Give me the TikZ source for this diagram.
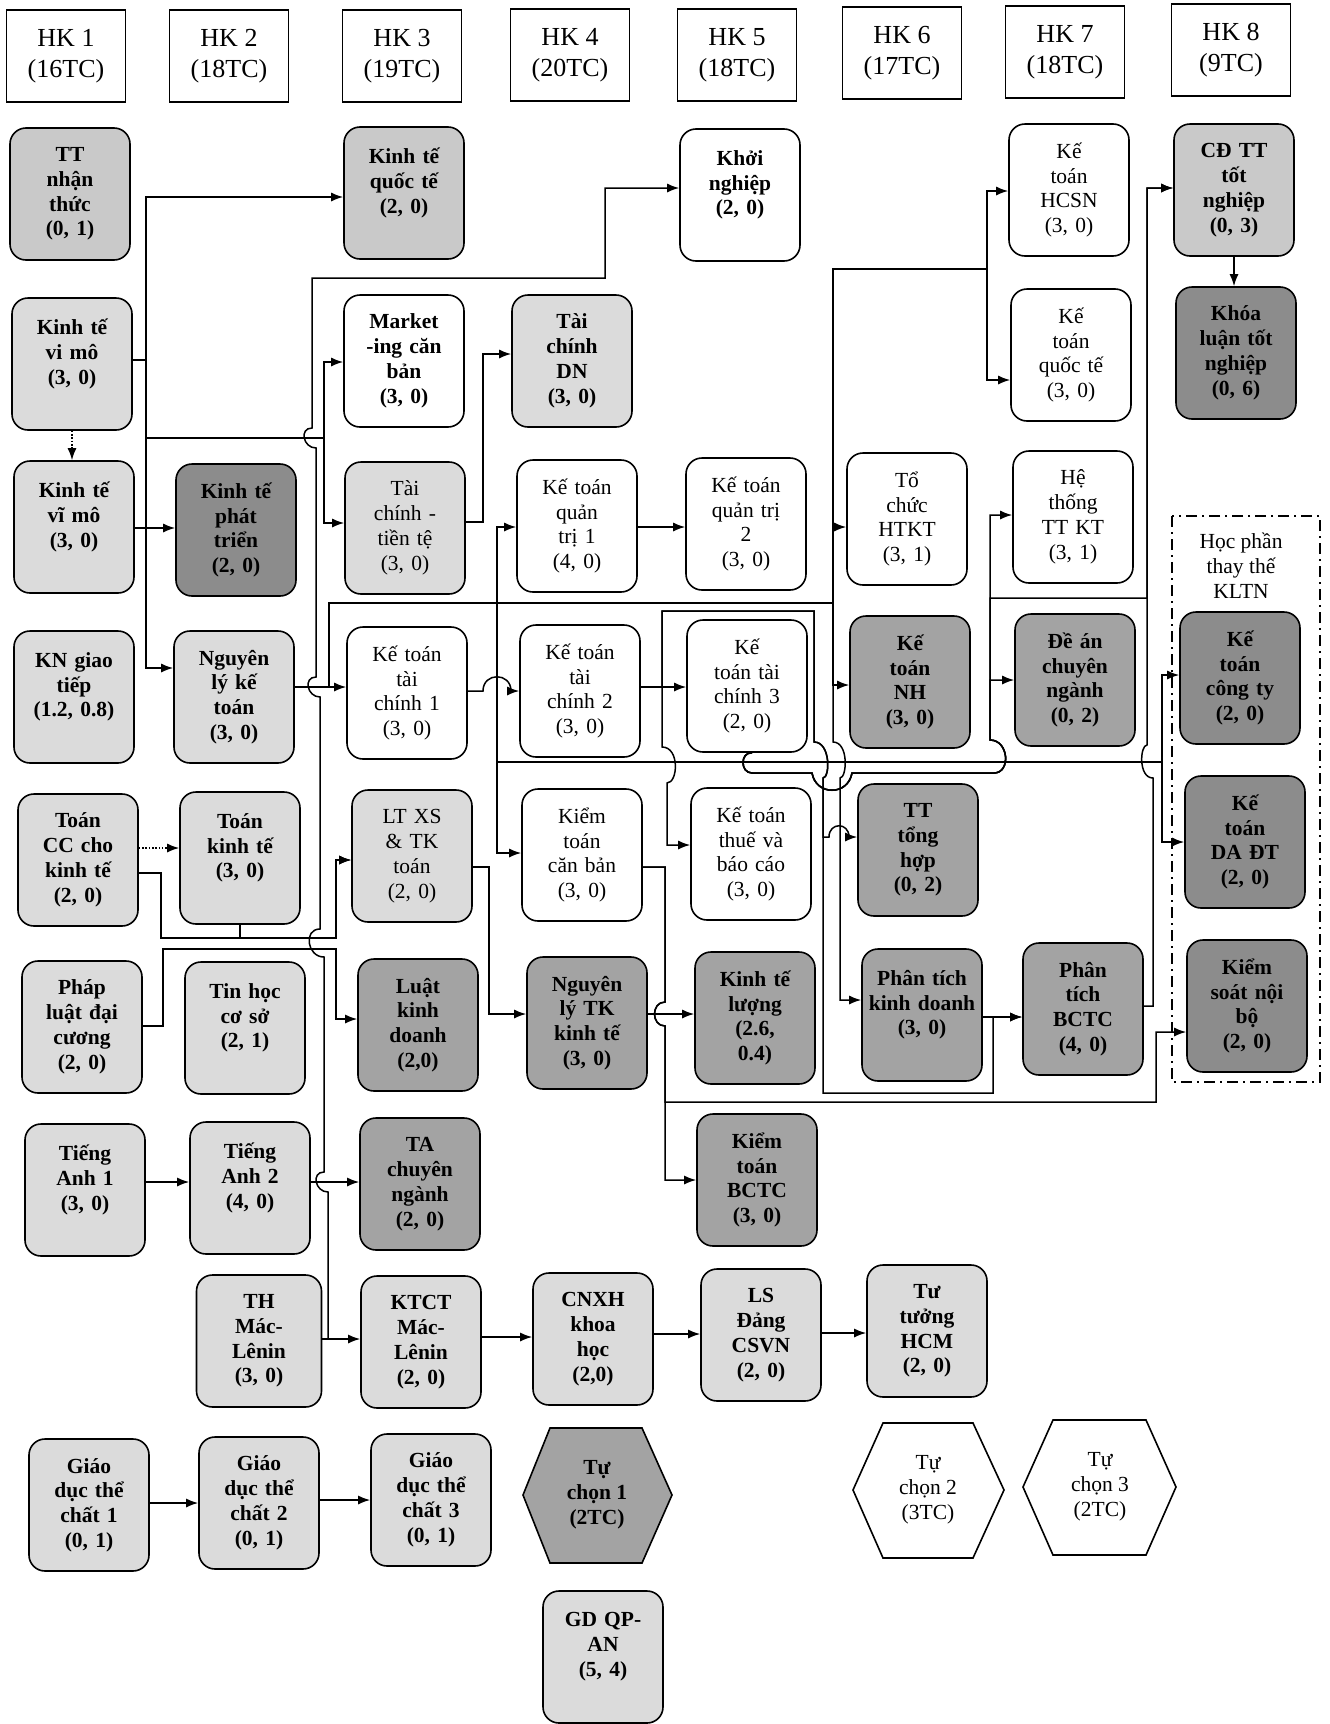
\documentclass[tikz,border=0pt]{standalone}
\usepackage{fontspec}
\setmainfont{Liberation Serif}
\usetikzlibrary{arrows.meta}
\definecolor{gA}{gray}{0.86}
\definecolor{gB}{gray}{0.79}
\definecolor{gC}{gray}{0.64}
\definecolor{gD}{gray}{0.55}
\begin{document}
\begin{tikzpicture}[x=1pt,y=-1pt,
  hdrbox/.style={draw, line width=1.6pt, minimum width=119pt, minimum height=92pt, align=center, inner sep=1pt, font=\fontsize{26}{31}\selectfont},
  basebox/.style={draw, line width=1.6pt, rounded corners=16pt, minimum width=120pt, minimum height=132pt, text width=114pt, align=center, inner sep=1pt},
  bxw/.style={basebox, fill=white, font=\fontsize{21.5}{24.8}\selectfont},
  bxwb/.style={basebox, fill=white, font=\bfseries\fontsize{21.5}{24.8}\selectfont},
  bxl/.style={basebox, fill=gA, font=\bfseries\fontsize{21.5}{24.8}\selectfont},
  bxlr/.style={basebox, fill=gA, font=\fontsize{21.5}{24.8}\selectfont},
  bxlb/.style={basebox, fill=gB, font=\bfseries\fontsize{21.5}{24.8}\selectfont},
  bxm/.style={basebox, fill=gC, font=\bfseries\fontsize{21.5}{24.8}\selectfont},
  bxd/.style={basebox, fill=gD, font=\bfseries\fontsize{21.5}{24.8}\selectfont},
  hexshape/.style={draw, line width=1.6pt, line join=miter},
  hextext/.style={align=center, inner sep=1pt, font=\fontsize{21.5}{24.8}\selectfont},
  arrow1/.style={line width=1.5pt, -{Latex[length=12pt,width=9pt]}},
  dotarrow/.style={arrow1, dash pattern=on 1.5pt off 1.8pt}
]
\useasboundingbox (0,0) rectangle (1330,1724);
\fill[white] (0,0) rectangle (1330,1724);

% headers
\node[hdrbox] (hk1) at (66,56) {HK 1\\(16TC)};
\node[hdrbox] (hk2) at (229,56) {HK 2\\(18TC)};
\node[hdrbox] (hk3) at (402,56) {HK 3\\(19TC)};
\node[hdrbox] (hk4) at (570,55) {HK 4\\(20TC)};
\node[hdrbox] (hk5) at (737,55) {HK 5\\(18TC)};
\node[hdrbox] (hk6) at (902,53) {HK 6\\(17TC)};
\node[hdrbox] (hk7) at (1065,52) {HK 7\\(18TC)};
\node[hdrbox] (hk8) at (1231,50) {HK 8\\(9TC)};

% row 1
\node[bxlb] (ttnt) at (70,194) {TT\\nhận\\thức\\(0, 1)};
\node[bxlb] (kqt) at (404,193) {Kinh tế\\quốc tế\\(2, 0)\\~};
\node[bxwb] (khn) at (740,195) {Khởi\\nghiệp\\(2, 0)\\~};
\node[bxw] (hcsn) at (1069,190) {Kế\\toán\\HCSN\\(3, 0)};
\node[bxlb] (cdtt) at (1234,190) {CĐ TT\\tốt\\nghiệp\\(0, 3)};
% row 2
\node[bxl] (vimo) at (72,364) {Kinh tế\\vi mô\\(3, 0)\\~};
\node[bxwb] (mkt) at (404,361) {Market\\-ing căn\\bản\\(3, 0)};
\node[bxl] (tcdn) at (572,361) {Tài\\chính\\DN\\(3, 0)};
\node[bxw] (ktqte) at (1071,355) {Kế\\toán\\quốc tế\\(3, 0)};
\node[bxd] (kltn) at (1236,353) {Khóa\\luận tốt\\nghiệp\\(0, 6)};
% row 3
\node[bxl] (vimo2) at (74,527) {Kinh tế\\vĩ mô\\(3, 0)\\~};
\node[bxd] (ktpt) at (236,530) {Kinh tế\\phát\\triển\\(2, 0)};
\node[bxlr] (tctt) at (405,528) {Tài\\chính -\\tiền tệ\\(3, 0)};
\node[bxw] (ktqt1) at (577,526) {Kế toán\\quản\\trị 1\\(4, 0)};
\node[bxw] (ktqt2) at (746,524) {Kế toán\\quản trị\\2\\(3, 0)};
\node[bxw] (tchtkt) at (907,519) {Tổ\\chức\\HTKT\\(3, 1)};
\node[bxw] (httt) at (1073,517) {Hệ\\thống\\TT KT\\(3, 1)};
% row 4
\node[bxl] (kngt) at (74,697) {KN giao\\tiếp\\(1.2, 0.8)\\~};
\node[bxl] (nlkt) at (234,697) {Nguyên\\lý kế\\toán\\(3, 0)};
\node[bxw] (kttc1) at (407,693) {Kế toán\\tài\\chính 1\\(3, 0)};
\node[bxw] (kttc2) at (580,691) {Kế toán\\tài\\chính 2\\(3, 0)};
\node[bxw] (kttc3) at (747,686) {Kế\\toán tài\\chính 3\\(2, 0)};
\node[bxm] (ktnh) at (910,682) {Kế\\toán\\NH\\(3, 0)};
\node[bxm] (dean) at (1075,680) {Đề án\\chuyên\\ngành\\(0, 2)};
\node[bxd] (ktct) at (1240,678) {Kế\\toán\\công ty\\(2, 0)};
% row 5
\node[bxl] (toancc) at (78,860) {Toán\\CC cho\\kinh tế\\(2, 0)};
\node[bxl] (toankt) at (240,858) {Toán\\kinh tế\\(3, 0)\\~};
\node[bxlr] (ltxs) at (412,856) {LT XS\\\& TK\\toán\\(2, 0)};
\node[bxw] (ktcb) at (582,855) {Kiểm\\toán\\căn bản\\(3, 0)};
\node[bxw] (ktthue) at (751,854) {Kế toán\\thuế và\\báo cáo\\(3, 0)};
\node[bxm] (tth) at (918,850) {TT\\tổng\\hợp\\(0, 2)};
\node[bxd] (ktda) at (1245,842) {Kế\\toán\\DA ĐT\\(2, 0)};
% row 6
\node[bxl] (pldc) at (82,1027) {Pháp\\luật đại\\cương\\(2, 0)};
\node[bxl] (thcs) at (245,1028) {Tin học\\cơ sở\\(2, 1)\\~};
\node[bxm] (lkd) at (418,1025) {Luật\\kinh\\doanh\\(2,0)};
\node[bxm] (nltk) at (587,1023) {Nguyên\\lý TK\\kinh tế\\(3, 0)};
\node[bxm] (ktl) at (755,1018) {Kinh tế\\lượng\\(2.6,\\0.4)};
\node[bxm] (ptkd) at (922,1015) {Phân tích\\kinh doanh\\(3, 0)\\~};
\node[bxm] (ptbctc) at (1083,1009) {Phân\\tích\\BCTC\\(4, 0)};
\node[bxd] (ksnb) at (1247,1006) {Kiểm\\soát nội\\bộ\\(2, 0)};
% row 7
\node[bxl] (ta1) at (85,1190) {Tiếng\\Anh 1\\(3, 0)\\~};
\node[bxl] (ta2) at (250,1188) {Tiếng\\Anh 2\\(4, 0)\\~};
\node[bxm] (tacn) at (420,1184) {TA\\chuyên\\ngành\\(2, 0)};
\node[bxm] (ktbctc) at (757,1180) {Kiểm\\toán\\BCTC\\(3, 0)};
% row 8
\node[bxl, minimum width=125pt] (thml) at (259,1341) {TH\\Mác-\\Lênin\\(3, 0)};
\node[bxl] (ktctml) at (421,1342) {KTCT\\Mác-\\Lênin\\(2, 0)};
\node[bxl] (cnxh) at (593,1339) {CNXH\\khoa\\học\\(2,0)};
\node[bxl] (lsd) at (761,1335) {LS\\Đảng\\CSVN\\(2, 0)};
\node[bxl] (tthcm) at (927,1331) {Tư\\tưởng\\HCM\\(2, 0)};
% row 9
\node[bxl] (gdtc1) at (89,1505) {Giáo\\dục thể\\chất 1\\(0, 1)};
\node[bxl] (gdtc2) at (259,1503) {Giáo\\dục thể\\chất 2\\(0, 1)};
\node[bxl] (gdtc3) at (431,1500) {Giáo\\dục thể\\chất 3\\(0, 1)};
\draw[hexshape, fill=gC] (523,1495) -- (550,1428) -- (642,1428) -- (672,1495) -- (642,1563) -- (550,1563) -- cycle;
\node[hextext, font=\bfseries\fontsize{21.5}{24.8}\selectfont] (tc1) at (597,1495) {Tự\\chọn 1\\(2TC)};
\draw[hexshape, fill=white] (853,1490) -- (883,1423) -- (973,1423) -- (1004,1490) -- (973,1558) -- (883,1558) -- cycle;
\node[hextext] (tc2) at (928,1490) {Tự\\chọn 2\\(3TC)};
\draw[hexshape, fill=white] (1023,1487) -- (1053,1420) -- (1146,1420) -- (1176,1487) -- (1146,1555) -- (1053,1555) -- cycle;
\node[hextext] (tc3) at (1100,1487) {Tự\\chọn 3\\(2TC)};
% row 10
\node[bxl] (gdqp) at (603,1657) {GD QP-\\AN\\(5, 4)\\~};

% frame
\draw[line width=1.5pt, dash pattern=on 11pt off 5pt on 2pt off 5pt] (1172,516) rectangle (1320,1082);
\node[hextext] (hptt) at (1241,566) {Học phần\\thay thế\\KLTN};

% ---- connectors ----
\draw[arrow1] (vimo.east |- 0,360) -- (146,360) -- (146,197) -- (kqt.west |- 0,197);
\draw[arrow1] (vimo.east |- 0,360) -- (146,360) -- (146,668) -- (nlkt.west |- 0,668);
\draw[arrow1] (vimo.east |- 0,360) -- (146,360) -- (146,438) -- (324,438) -- (324,362) -- (mkt.west |- 0,362);
\draw[arrow1] (vimo.east |- 0,360) -- (146,360) -- (146,438) -- (324,438) -- (324,523) -- (tctt.west |- 0,523);
\draw[dotarrow] (vimo.south) -- (vimo.south |- vimo2.north);
\draw[arrow1] (vimo2.east |- 0,528) -- (ktpt.west |- 0,528);

\draw[arrow1] (thml.east |- 0,1339) -- (328,1339) -- (328,1192)
  .. controls (315,1192) and (311,1172) .. (324,1172) -- (324,957)
  .. controls (307,957) and (303,929) .. (320,929) -- (320,697)
  .. controls (307,697) and (303,677) .. (316,677) -- (316,448)
  .. controls (303,448) and (299,428) .. (312,428) -- (312,278) -- (605,278) -- (605,188) -- (khn.west |- 0,188);
\draw[arrow1] (thml.east |- 0,1339) -- (ktctml.west |- 0,1339);
\draw[arrow1] (ta1.east |- 0,1182) -- (ta2.west |- 0,1182);
\draw[arrow1] (ta2.east |- 0,1182) -- (tacn.west |- 0,1182);

\draw[dotarrow] (toancc.east |- 0,848) -- (toankt.west |- 0,848);
\draw[arrow1] (toancc.east |- 0,873) -- (161,873) -- (161,938) -- (336,938) -- (336,860) -- (ltxs.west |- 0,860);
\draw[arrow1] (toankt.south) -- (toankt.south |- 0,938) -- (336,938) -- (336,860) -- (ltxs.west |- 0,860);
\draw[arrow1] (pldc.east |- 0,1026) -- (163,1026) -- (163,949) -- (336,949) -- (336,1019) -- (lkd.west |- 0,1019);

\draw[arrow1] (nlkt.east |- 0,687) -- (kttc1.west |- 0,687);
\draw[arrow1] (nlkt.east |- 0,687) -- (329,687) -- (329,603) -- (497,603) -- (497,527) -- (ktqt1.west |- 0,527);
\draw[arrow1] (nlkt.east |- 0,687) -- (329,687) -- (329,603) -- (497,603) -- (497,853) -- (ktcb.west |- 0,853);
\draw[arrow1] (nlkt.east |- 0,687) -- (329,687) -- (329,603) -- (497,603) -- (497,762) -- (1162,762) -- (1162,675) -- (ktct.west |- 0,675);
\draw[arrow1] (nlkt.east |- 0,687) -- (329,687) -- (329,603) -- (497,603) -- (497,762) -- (1162,762) -- (1162,842) -- (ktda.west |- 0,842);
\draw[arrow1] (nlkt.east |- 0,687) -- (329,687) -- (329,603) -- (833,603) -- (833,527) -- (tchtkt.west |- 0,527);
\draw[arrow1] (nlkt.east |- 0,687) -- (329,687) -- (329,603) -- (833,603) -- (833,685) -- (ktnh.west |- 0,685);
\draw[arrow1] (nlkt.east |- 0,687) -- (329,687) -- (329,603) -- (833,603) -- (833,742)
  .. controls (849,742) and (847,778) .. (840,778) -- (840,1000) -- (ptkd.west |- 0,1000);
\draw[arrow1] (nlkt.east |- 0,687) -- (329,687) -- (329,603) -- (833,603) -- (833,269) -- (987,269) -- (987,191) -- (hcsn.west |- 0,191);
\draw[arrow1] (nlkt.east |- 0,687) -- (329,687) -- (329,603) -- (833,603) -- (833,269) -- (987,269) -- (987,380) -- (ktqte.west |- 0,380);

\draw[arrow1] (tctt.east |- 0,522) -- (483,522) -- (483,354) -- (tcdn.west |- 0,354);
\draw[arrow1] (ktqt1.east |- 0,527) -- (ktqt2.west |- 0,527);

\draw[arrow1] (kttc1.east |- 0,691) -- (483,691) .. controls (483,672) and (511,672) .. (511,691) -- (kttc2.west |- 0,691);
\draw[arrow1] (kttc2.east |- 0,687) -- (kttc3.west |- 0,687);
\draw[arrow1] (kttc2.east |- 0,687) -- (662,687) -- (662,747) .. controls (680,747) and (678,783) .. (667,783) -- (667,845) -- (ktthue.west |- 0,845);
\draw[arrow1] (kttc2.east |- 0,687) -- (662,687) -- (662,611) -- (814,611) -- (814,742)
  .. controls (831,742) and (830,778) .. (823,778) -- (823,1093) -- (993,1093) -- (993,1017) -- (ptbctc.west |- 0,1017);
\draw[arrow1] (kttc2.east |- 0,687) -- (662,687) -- (662,611) -- (814,611) -- (814,742)
  .. controls (831,742) and (830,778) .. (823,778) -- (823,837) -- (829,837) .. controls (829,822) and (849,822) .. (849,837) -- (tth.west |- 0,837);
\draw[arrow1] (ptkd.east |- 0,1017) -- (ptbctc.west |- 0,1017);

\draw[arrow1] ([xshift=5pt]kttc3.south) .. controls (740,752) and (740,773) .. (752,773) -- (812,773)
  .. controls (816,796) and (848,796) .. (852,773) -- (994,773)
  .. controls (1011,773) and (1009,740) .. (990,740) -- (990,515) -- (httt.west |- 0,515);
\draw[arrow1] ([xshift=5pt]kttc3.south) .. controls (740,752) and (740,773) .. (752,773) -- (812,773)
  .. controls (816,796) and (848,796) .. (852,773) -- (994,773)
  .. controls (1011,773) and (1009,740) .. (990,740) -- (990,680) -- (dean.west |- 0,680);
\draw[arrow1] ([xshift=5pt]kttc3.south) .. controls (740,752) and (740,773) .. (752,773) -- (812,773)
  .. controls (816,796) and (848,796) .. (852,773) -- (994,773)
  .. controls (1011,773) and (1009,740) .. (990,740) -- (990,598) -- (1147,598) -- (1147,188) -- (cdtt.west |- 0,188);
\draw[arrow1] (ptbctc.east |- 0,1006) -- (1153,1006) -- (1153,778) .. controls (1138,778) and (1140,745) .. (1147,745) -- (1147,188) -- (cdtt.west |- 0,188);
\draw[arrow1] (cdtt.south) -- (cdtt.south |- kltn.north);

\draw[arrow1] (ktcb.east |- 0,867) -- (665,867) -- (665,1002) .. controls (651,1002) and (651,1026) .. (665,1026) -- (665,1180) -- (ktbctc.west |- 0,1180);
\draw[arrow1] (ktcb.east |- 0,867) -- (665,867) -- (665,1002) .. controls (651,1002) and (651,1026) .. (665,1026) -- (665,1102) -- (1156,1102) -- (1156,1032) -- (ksnb.west |- 0,1032);
\draw[arrow1] (ltxs.east |- 0,867) -- (489,867) -- (489,1014) -- (nltk.west |- 0,1014);
\draw[arrow1] (nltk.east |- 0,1014) -- (ktl.west |- 0,1014);

\draw[arrow1] (ktctml.east |- 0,1337) -- (cnxh.west |- 0,1337);
\draw[arrow1] (cnxh.east |- 0,1334) -- (lsd.west |- 0,1334);
\draw[arrow1] (lsd.east |- 0,1333) -- (tthcm.west |- 0,1333);
\draw[arrow1] (gdtc1.east |- 0,1503) -- (gdtc2.west |- 0,1503);
\draw[arrow1] (gdtc2.east |- 0,1500) -- (gdtc3.west |- 0,1500);
\end{tikzpicture}
\end{document}
